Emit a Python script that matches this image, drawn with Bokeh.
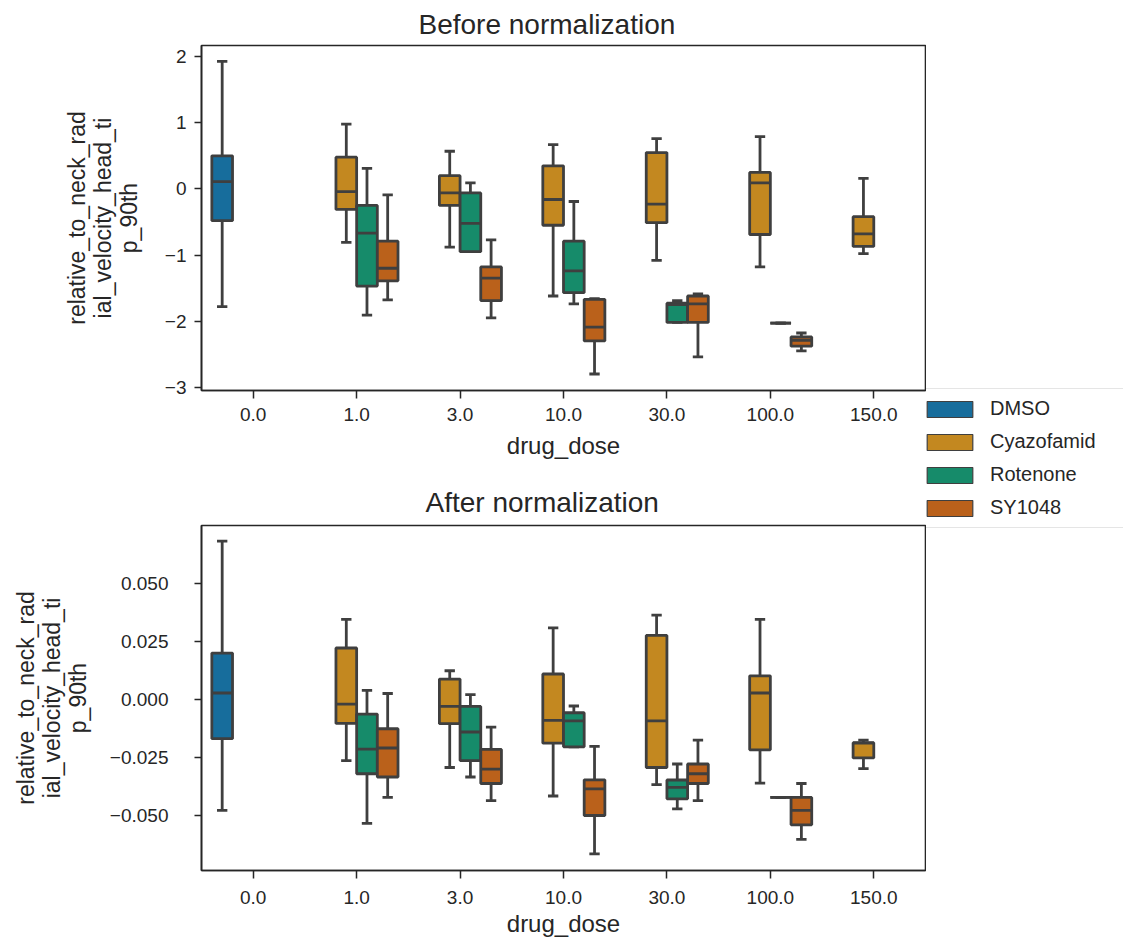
from bokeh.plotting import figure
from bokeh.models import (Range1d, FixedTicker, CustomJSTickFormatter, Legend, LegendItem,
                          ColumnDataSource)
from bokeh.layouts import row, column
from bokeh.embed import file_html
from bokeh.resources import INLINE

# ---------------- data ----------------
doses = ["0.0", "1.0", "3.0", "10.0", "30.0", "100.0", "150.0"]
drugs = ["DMSO", "Cyazofamid", "Rotenone", "SY1048"]
palette = ["#176d9c", "#c38820", "#168b6a", "#ba611b"]

box_dose = ["0.0", "1.0", "1.0", "1.0", "3.0", "3.0", "3.0", "10.0", "10.0", "10.0",
            "30.0", "30.0", "30.0", "100.0", "100.0", "100.0", "150.0"]
box_drug = ["DMSO", "Cyazofamid", "Rotenone", "SY1048", "Cyazofamid", "Rotenone", "SY1048",
            "Cyazofamid", "Rotenone", "SY1048", "Cyazofamid", "Rotenone", "SY1048",
            "Cyazofamid", "Rotenone", "SY1048", "Cyazofamid"]

before_low = [-1.78, -0.81, -1.91, -1.68, -0.88, -0.95, -1.95, -1.62, -1.74, -2.80,
              -1.08, -2.02, -2.54, -1.18, -2.03, -2.45, -0.98]
before_q1 = [-0.48, -0.31, -1.47, -1.39, -0.25, -0.95, -1.69, -0.55, -1.57, -2.30,
             -0.51, -2.02, -2.02, -0.69, -2.03, -2.38, -0.87]
before_med = [0.11, -0.04, -0.67, -1.20, -0.06, -0.52, -1.35, -0.16, -1.24, -2.09,
              -0.23, -1.75, -1.74, 0.09, -2.03, -2.29, -0.68]
before_q3 = [0.50, 0.48, -0.25, -0.79, 0.20, -0.06, -1.18, 0.35, -0.79, -1.67,
             0.55, -1.73, -1.62, 0.25, -2.03, -2.24, -0.42]
before_high = [1.93, 0.98, 0.31, -0.09, 0.57, 0.09, -0.77, 0.67, -0.19, -1.66,
               0.76, -1.69, -1.59, 0.79, -2.03, -2.18, 0.16]

after_low = [-0.0477, -0.0262, -0.0533, -0.0421, -0.0292, -0.0333, -0.0435, -0.0415, -0.0203, -0.0664,
             -0.0366, -0.0470, -0.0435, -0.0359, -0.0421, -0.0602, -0.0297]
after_q1 = [-0.0168, -0.0102, -0.0319, -0.0333, -0.0103, -0.0262, -0.0361, -0.0187, -0.0203, -0.0499,
            -0.0292, -0.0427, -0.0361, -0.0216, -0.0421, -0.0539, -0.0251]
after_med = [0.0029, -0.0019, -0.0213, -0.0208, -0.0029, -0.0139, -0.0299, -0.0089, -0.0091, -0.0384,
             -0.0091, -0.0378, -0.0319, 0.0029, -0.0421, -0.0477, -0.0187]
after_q3 = [0.0201, 0.0223, -0.0062, -0.0125, 0.0089, -0.0029, -0.0214, 0.0111, -0.0056, -0.0345,
            0.0277, -0.0346, -0.0277, 0.0103, -0.0421, -0.0421, -0.0185]
after_high = [0.0684, 0.0346, 0.0040, 0.0027, 0.0125, 0.0022, -0.0118, 0.0310, -0.0027, -0.0201,
              0.0365, -0.0277, -0.0174, 0.0346, -0.0421, -0.0361, -0.0174]

before_yticks = [-3, -2, -1, 0, 1, 2]
after_yticks = [-0.050, -0.025, 0.0, 0.025, 0.050]

y_label = "relative_to_neck_rad\nial_velocity_head_ti\np_90th"
x_label = "drug_dose"

# ---------------- styling ----------------
FONT = "Liberation Sans"
INK = "#262626"
EDGE = "#3f3f3f"
BOX_W = 0.2
LEFT_W = 926


def make_panel(title, low, q1, med, q3, high, y_lo, y_hi, yticks, digits,
               height, mb_top, mb_bottom, title_offset, title_standoff,
               xl_standoff, xa_standoff, yl_standoff, ya_standoff):
    p = figure(width=LEFT_W, height=height, x_range=Range1d(-0.5, 6.5),
               y_range=Range1d(y_lo, y_hi), output_backend="svg",
               toolbar_location=None, min_border_left=201, min_border_right=1,
               min_border_top=mb_top, min_border_bottom=mb_bottom)
    p.grid.visible = False
    p.outline_line_color = INK
    p.outline_line_width = 1.6
    p.background_fill_color = "white"
    p.border_fill_color = "white"

    p.title.text = title
    p.title.text_font = FONT
    p.title.text_font_size = "28px"
    p.title.text_font_style = "normal"
    p.title.text_color = INK
    p.title.align = "left"
    p.title.offset = title_offset
    p.title.standoff = title_standoff

    xs = [doses.index(d) + (drugs.index(g) - 1.5) * BOX_W for d, g in zip(box_dose, box_drug)]
    src = ColumnDataSource(dict(
        x=xs,
        x0=[x - BOX_W / 2 for x in xs], x1=[x + BOX_W / 2 for x in xs],
        c0=[x - BOX_W / 4 for x in xs], c1=[x + BOX_W / 4 for x in xs],
        low=low, q1=q1, med=med, q3=q3, high=high,
        color=[palette[drugs.index(g)] for g in box_drug],
    ))
    lw = 2.8
    p.segment(x0="x", y0="q3", x1="x", y1="high", source=src, line_color=EDGE, line_width=lw)
    p.segment(x0="x", y0="q1", x1="x", y1="low", source=src, line_color=EDGE, line_width=lw)
    p.segment(x0="c0", y0="high", x1="c1", y1="high", source=src, line_color=EDGE, line_width=lw)
    p.segment(x0="c0", y0="low", x1="c1", y1="low", source=src, line_color=EDGE, line_width=lw)
    p.vbar(x="x", width=BOX_W, bottom="q1", top="q3", source=src, fill_color="color",
           line_color=EDGE, line_width=lw)
    p.segment(x0="x0", y0="med", x1="x1", y1="med", source=src, line_color=EDGE, line_width=lw)

    # x axis
    xa = p.xaxis[0]
    xa.ticker = FixedTicker(ticks=list(range(len(doses))))
    xa.formatter = CustomJSTickFormatter(args=dict(labels=doses),
                                         code="return labels[Math.round(tick)];")
    xa.axis_label = x_label
    # y axis
    ya = p.yaxis[0]
    ya.ticker = FixedTicker(ticks=yticks)
    ya.formatter = CustomJSTickFormatter(args=dict(d=digits),
                                         code="const s = Math.abs(tick).toFixed(d); return (tick < -1e-12 ? '\u2212' : '') + s;")
    ya.axis_label = y_label
    for ax in (xa, ya):
        ax.axis_line_color = INK
        ax.axis_line_width = 1.6
        ax.major_tick_line_color = INK
        ax.major_tick_line_width = 1.5
        ax.major_tick_in = 0
        ax.minor_tick_line_color = None
        ax.major_label_text_font = FONT
        ax.major_label_text_font_size = "19px"
        ax.major_label_text_color = INK
        ax.axis_label_text_font = FONT
        ax.axis_label_text_font_style = "normal"
        ax.axis_label_text_color = INK
    xa.major_tick_out = 8
    xa.major_label_standoff = xl_standoff
    xa.axis_label_standoff = xa_standoff
    xa.axis_label_text_font_size = "24px"
    ya.major_tick_out = 7
    ya.major_label_standoff = yl_standoff
    ya.axis_label_standoff = ya_standoff
    ya.axis_label_text_font_size = "23px"
    ya.axis_label_text_line_height = 1.0
    return p


TOP_H = 476
TOTAL_H = 941

top = make_panel("Before normalization", before_low, before_q1, before_med, before_q3,
                 before_high, -3.05, 2.17, before_yticks, 0,
                 height=TOP_H, mb_top=45, mb_bottom=86, title_offset=217, title_standoff=12,
                 xl_standoff=9, xa_standoff=8, yl_standoff=8, ya_standoff=20)
bottom = make_panel("After normalization", after_low, after_q1, after_med, after_q3,
                    after_high, -0.0736, 0.0751, after_yticks, 3,
                    height=TOTAL_H - TOP_H, mb_top=49, mb_bottom=71, title_offset=224,
                    title_standoff=15,
                    xl_standoff=12, xa_standoff=3, yl_standoff=26, ya_standoff=16)

# legend panel (drawn beside the two panels)
leg = figure(width=1123 - LEFT_W, height=TOTAL_H, x_range=Range1d(0, 1), y_range=Range1d(0, 1),
             toolbar_location=None, output_backend="svg", min_border=0,
             x_axis_location=None, y_axis_location=None)
leg.outline_line_color = None
leg.grid.visible = False
items = []
for d, c in zip(drugs, palette):
    # placeholder glyph outside the visible range, only used for the legend swatch
    r = leg.vbar(x=[-10], top=[-10], bottom=[-11], width=0.1, fill_color=c,
                 line_color=EDGE, line_width=1.2)
    items.append(LegendItem(label=d, renderers=[r]))
legend = Legend(items=items, location=(-13, TOTAL_H - 528), margin=0, padding=7, spacing=8,
                glyph_width=57, glyph_height=20, label_standoff=12, label_height=25,
                label_width=200,
                label_text_font=FONT, label_text_font_size="20px", label_text_color=INK,
                border_line_color="#cccccc", border_line_width=1.2,
                background_fill_color="white", background_fill_alpha=0.9)
leg.add_layout(legend)

layout = row(column(top, bottom), leg)
open("out.html", "w").write(file_html(layout, INLINE))
